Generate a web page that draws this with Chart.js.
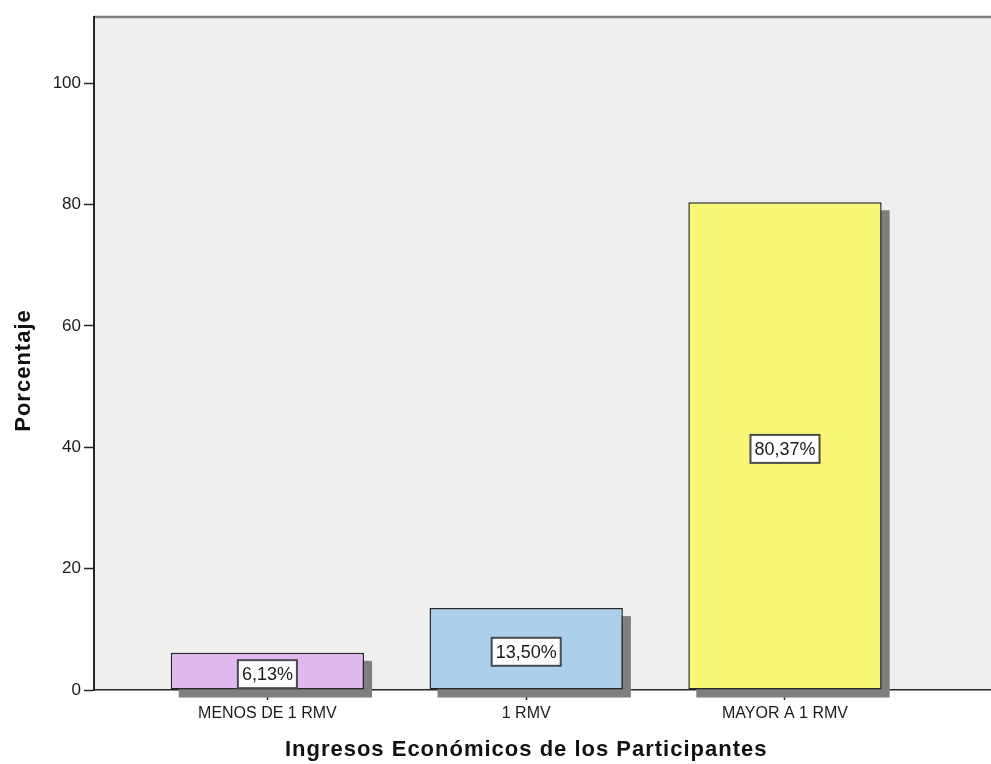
<!DOCTYPE html>
<html>
<head>
<meta charset="utf-8">
<script src="https://cdn.jsdelivr.net/npm/chart.js@4.4.1/dist/chart.umd.min.js"></script>
<style>
  html, body { margin: 0; padding: 0; background: #fff; }
  canvas { display: block; }
</style>
</head>
<body>
<canvas id="ingresosChart" width="991" height="764"></canvas>
<script>
// data
const categories = ["MENOS DE 1 RMV", "1 RMV", "MAYOR A 1 RMV"];
const percentages = [6.13, 13.50, 80.37];
const barColors = ["#e0b9f1", "#accfec", "#f9f776"];
const yTickValues = [0, 20, 40, 60, 80, 100];
const xTitle = "Ingresos Económicos de los Participantes";
const yTitle = "Porcentaje";

const FONT = "'Liberation Sans', Arial, sans-serif";

// grey plot background + top frame line
const plotBackground = {
  id: "plotBackground",
  beforeDraw(chart) {
    const { ctx, chartArea: a } = chart;
    ctx.save();
    ctx.fillStyle = "#efefef";
    ctx.fillRect(a.left, a.top, a.right - a.left, a.bottom - a.top);
    ctx.strokeStyle = "#808080";
    ctx.lineWidth = 2.5;
    ctx.beginPath();
    ctx.moveTo(a.left, a.top);
    ctx.lineTo(a.right, a.top);
    ctx.stroke();
    ctx.restore();
  },
};

// drop shadow behind each bar (offset right/down)
const barShadow = {
  id: "barShadow",
  beforeDatasetsDraw(chart) {
    const { ctx } = chart;
    const meta = chart.getDatasetMeta(0);
    ctx.save();
    ctx.fillStyle = "#7f7f7f";
    meta.data.forEach((el) => {
      const { x, y, base, width } = el.getProps(["x", "y", "base", "width"], true);
      ctx.fillRect(x - width / 2 + 8, y + 8, width, base - y);
    });
    ctx.restore();
  },
};

// boxed percentage labels in the middle of each bar
const boxLabels = {
  id: "boxLabels",
  afterDatasetsDraw(chart) {
    const { ctx } = chart;
    const meta = chart.getDatasetMeta(0);
    ctx.save();
    ctx.font = "18px " + FONT;
    ctx.textAlign = "center";
    ctx.textBaseline = "middle";
    meta.data.forEach((el, i) => {
      const { x, y, base } = el.getProps(["x", "y", "base"], true);
      const text = percentages[i].toFixed(2).replace(".", ",") + "%";
      const w = ctx.measureText(text).width + 8;
      const h = 28;
      const cy = (y + base) / 2 + 3;
      ctx.fillStyle = "#ffffff";
      ctx.fillRect(x - w / 2, cy - h / 2, w, h);
      ctx.strokeStyle = "#4a4a4a";
      ctx.lineWidth = 2;
      ctx.strokeRect(x - w / 2, cy - h / 2, w, h);
      ctx.fillStyle = "#1a1a1a";
      ctx.fillText(text, x, cy + 1);
    });
    ctx.restore();
  },
};

// axis titles, slightly letter-spaced like the original
const axisTitles = {
  id: "axisTitles",
  afterDraw(chart) {
    const { ctx, chartArea: a, scales } = chart;
    ctx.save();
    ctx.fillStyle = "#111";
    ctx.font = "bold 22px " + FONT;
    ctx.letterSpacing = "1px";
    ctx.textAlign = "center";
    ctx.textBaseline = "middle";
    const midX = (scales.x.getPixelForValue(1) + scales.x.getPixelForValue(categories.length)) / 2;
    ctx.fillText(xTitle, midX, 750);
    ctx.translate(24, (a.top + a.bottom) / 2 + 17);
    ctx.rotate(-Math.PI / 2);
    ctx.fillText(yTitle, 0, 0);
    ctx.restore();
  },
};

const chart = new Chart(document.getElementById("ingresosChart"), {
  type: "bar",
  data: {
    datasets: [
      {
        data: percentages.map((v, i) => ({ x: i + 1, y: v })),
        backgroundColor: barColors,
        borderColor: "#262626",
        borderWidth: 1.5,
        borderSkipped: false,
        barPercentage: 0.747,
        categoryPercentage: 1,
      },
    ],
  },
  options: {
    responsive: false,
    animation: false,
    layout: { padding: { top: 17, right: 0, left: 0, bottom: 0 } },
    plugins: {
      legend: { display: false },
      tooltip: { enabled: false },
    },
    scales: {
      x: {
        type: "linear",
        offset: false,
        min: 0.33,
        max: 3.796,
        afterBuildTicks: (scale) => {
          scale.ticks = categories.map((c, i) => ({ value: i + 1 }));
        },
        afterFit: (scale) => {
          scale.height = 74;
        },
        grid: {
          offset: false,
          drawOnChartArea: false,
          drawTicks: true,
          tickLength: 10,
          tickColor: "#262626",
          tickWidth: 1.5,
        },
        border: { color: "#262626", width: 1.5 },
        ticks: {
          autoSkip: false,
          maxRotation: 0,
          padding: 4,
          color: "#1a1a1a",
          font: { family: FONT, size: 16 },
          callback: (value) => categories[value - 1] ?? "",
        },
      },
      y: {
        min: 0,
        max: 110.9,
        afterBuildTicks: (scale) => {
          scale.ticks = yTickValues.map((v) => ({ value: v }));
        },
        afterFit: (scale) => {
          scale.width = 94;
        },
        grid: {
          drawOnChartArea: false,
          drawTicks: true,
          tickLength: 10,
          tickColor: "#262626",
          tickWidth: 1.5,
        },
        border: { color: "#262626", width: 2 },
        ticks: {
          padding: 3,
          color: "#1a1a1a",
          font: { family: FONT, size: 17 },
        },
      },
    },
  },
  plugins: [plotBackground, barShadow, boxLabels, axisTitles],
});
</script>
</body>
</html>
